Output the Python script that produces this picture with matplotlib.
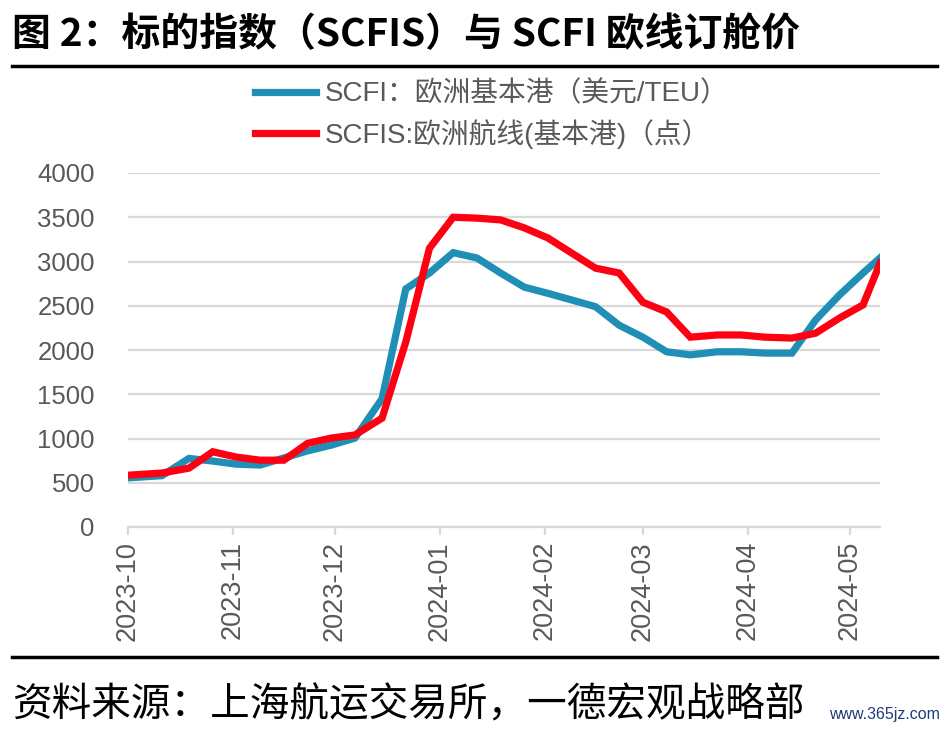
#!/usr/bin/python
# %% Imports
import pandas as pd
import matplotlib
matplotlib.use("Agg")
from matplotlib import pyplot as plt
import matplotlib.dates as mdates

plt.rcParams['font.family'] = ['Liberation Sans', 'Noto Sans CJK SC', 'DejaVu Sans']

# %% Data
dates = pd.to_datetime([
    "2023-10-01", "2023-10-11", "2023-10-19", "2023-10-26", "2023-11-02",
    "2023-11-09", "2023-11-16", "2023-11-23", "2023-11-30", "2023-12-07",
    "2023-12-15", "2023-12-22", "2023-12-29", "2024-01-05", "2024-01-12",
    "2024-01-19", "2024-01-26", "2024-02-02", "2024-02-09", "2024-02-16",
    "2024-02-23", "2024-03-01", "2024-03-08", "2024-03-15", "2024-03-23",
    "2024-03-30", "2024-04-06", "2024-04-14", "2024-04-21", "2024-04-28",
    "2024-05-05", "2024-05-10",
])
scfi = [555, 580, 775, 745, 710, 700, 780, 860, 925, 1005,
        1450, 2690, 2870, 3100, 3040, 2870, 2710, 2640, 2565, 2490,
        2280, 2145, 1980, 1945, 1980, 1980, 1965, 1965, 2340, 2620,
        2870, 3040]
scfis = [585, 610, 665, 850, 790, 755, 755, 945, 1005, 1040,
         1230, 2090, 3150, 3500, 3490, 3470, 3380, 3265, 3095, 2925,
         2870, 2540, 2430, 2145, 2170, 2170, 2145, 2135, 2190, 2360,
         2510, 2980]
labels = ["SCFI：欧洲基本港（美元/TEU）", "SCFIS:欧洲航线(基本港)（点）"]
yticks = [0, 500, 1000, 1500, 2000, 2500, 3000, 3500, 4000]

title = "图 2：标的指数（SCFIS）与 SCFI 欧线订舱价"
source = "资料来源：上海航运交易所，一德宏观战略部"

# %% Figure
fig = plt.figure(figsize=(9.46, 7.30), dpi=100)
ax = fig.add_axes([128/946, 1-527/730, (880-128)/946, (527-173)/730])

ax.plot(dates, scfi, color="#1f8fb5", lw=5.2, label=labels[0], solid_joinstyle="miter")
ax.plot(dates, scfis, color="#ff0012", lw=5.2, label=labels[1], solid_joinstyle="miter")

ax.set_ylim(0, 4000)
ax.set_yticks(yticks)
ax.set_xlim(pd.Timestamp("2023-10-01"), pd.Timestamp("2024-05-10"))
ax.xaxis.set_major_locator(mdates.MonthLocator())
ax.xaxis.set_major_formatter(mdates.DateFormatter("%Y-%m"))
ax.grid(axis="y", color="#d9d9d9", lw=1.6)
ax.set_axisbelow(True)
for s in ["top", "right", "left"]:
    ax.spines[s].set_visible(False)
ax.spines["bottom"].set_color("#d9d9d9")
ax.spines["bottom"].set_linewidth(1.6)
ax.tick_params(axis="y", length=0, pad=24, labelsize=18.5, labelcolor="#595959")
ax.tick_params(axis="x", length=6, width=1.6, color="#d9d9d9", pad=4,
               labelsize=19.5, labelcolor="#595959", labelrotation=90)

fig.legend(loc="upper left", bbox_to_anchor=(255/946, 1-81/730), frameon=False,
           fontsize=20, handlelength=2.2, handletextpad=0.3, labelspacing=0.42,
           borderpad=0, borderaxespad=0, labelcolor="#595959")

# title, rules and source
fig.text(12/946, 1-35/730, title, fontsize=28, va="center", ha="left",
         family=["Noto Sans CJK SC"], weight="bold")
fig.add_artist(plt.Line2D([12/946, 937/946], [1-66/730, 1-66/730], color="black", lw=2.5))
fig.add_artist(plt.Line2D([12/946, 937/946], [1-657/730, 1-657/730], color="black", lw=2.5))
fig.text(12/946, 1-705/730, source, fontsize=28.5, va="center", ha="left",
         family=["Noto Sans CJK SC"])
fig.text(940/946, 1-715/730, "www.365jz.com", fontsize=11.5, va="center", ha="right",
         color="#1f3a7a")

plt.savefig("out.png", dpi=100)
plt.close(fig)
